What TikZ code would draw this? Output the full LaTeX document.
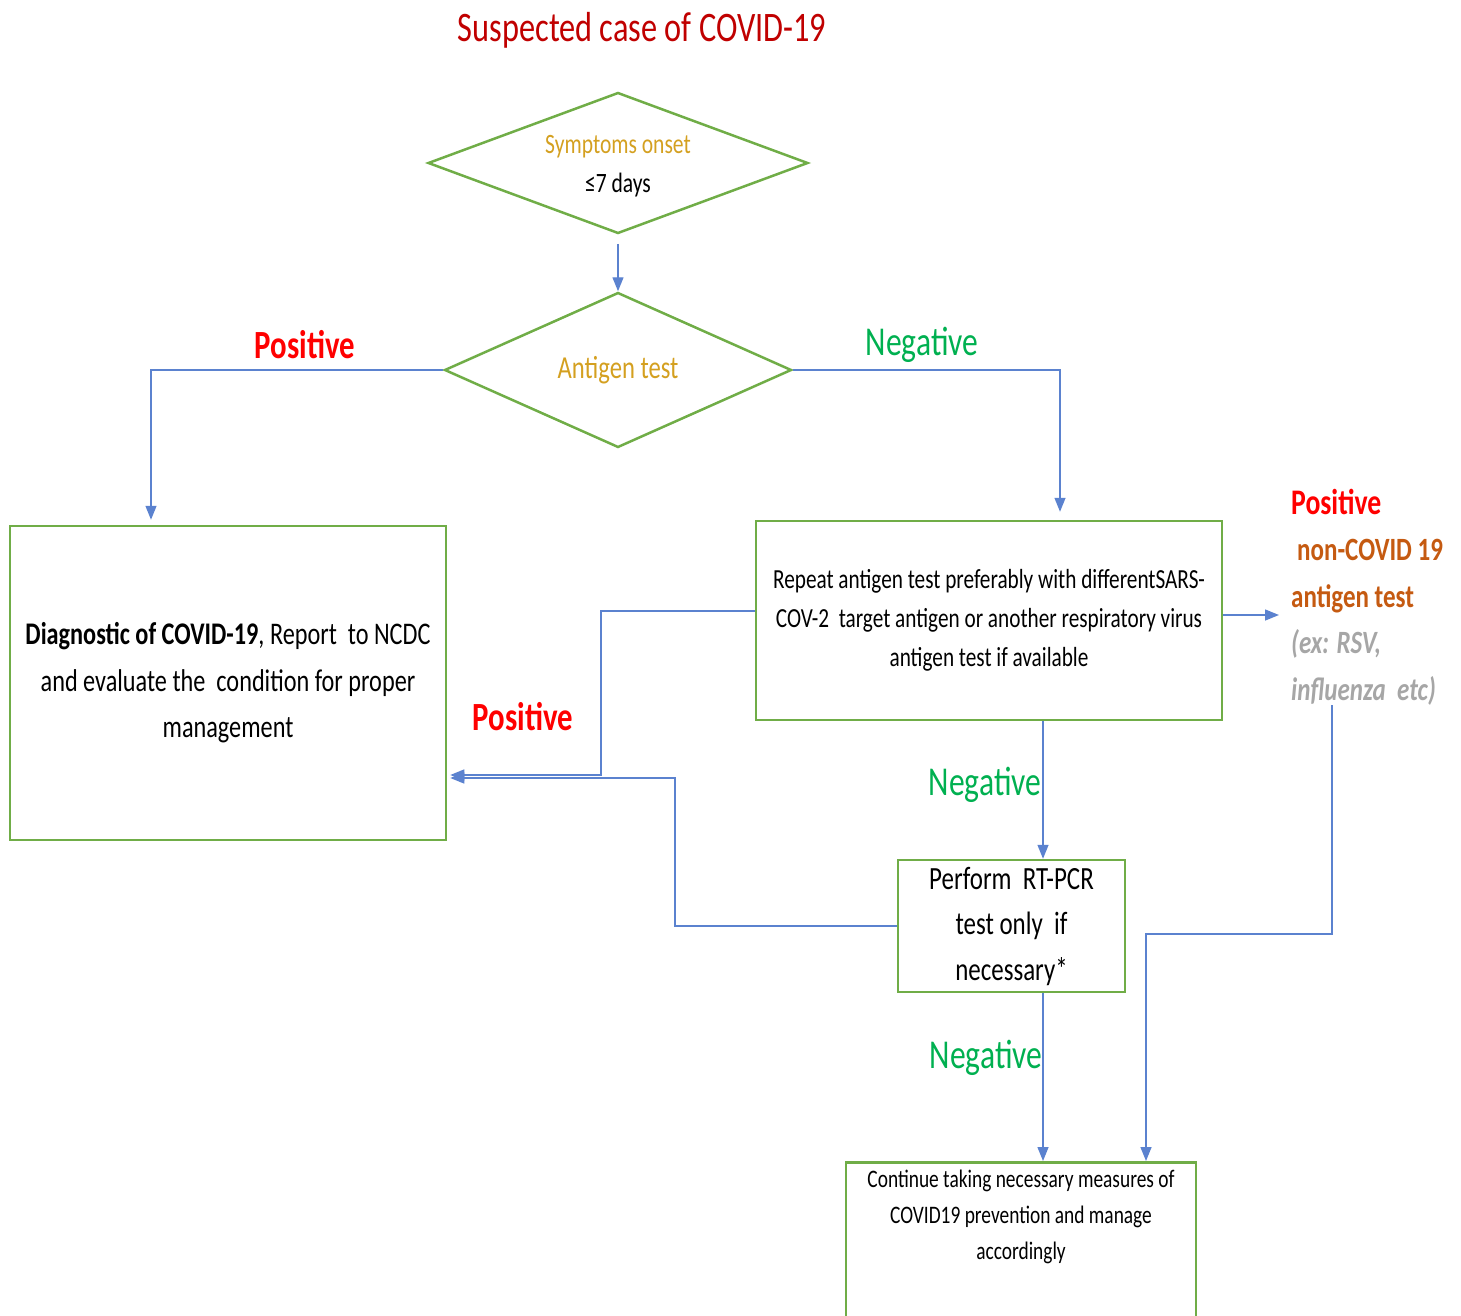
\documentclass[tikz,border=0pt]{standalone}
\usepackage{fontspec}
\setmainfont{Carlito}[FakeStretch=0.77]
\usetikzlibrary{arrows.meta,positioning,shapes.geometric}
\definecolor{boxgreen}{HTML}{70AD47}
\definecolor{linkblue}{HTML}{5B82CF}
\definecolor{titlered}{HTML}{C00000}
\definecolor{posred}{HTML}{FF0000}
\definecolor{neggreen}{HTML}{00B050}
\definecolor{goldtext}{HTML}{D4A020}
\definecolor{orangetext}{HTML}{C55A11}
\definecolor{greytext}{HTML}{A6A6A6}
\tikzset{
    %Define standard arrow tip
    >={Triangle[length=14pt,width=11pt]},
    %Define style for decisions
    romb/.style={
           diamond, aspect=2.7,
           draw=boxgreen, line width=2.5pt,
           inner sep=0pt,
           align=center},
    %Define style for boxes
    punkt/.style={
           rectangle,
           draw=boxgreen, line width=2.5pt,
           inner sep=0pt,
           align=center},
    % Define arrow style
    pil/.style={
           ->,
           draw=linkblue,
           line width=1.4pt},
    % Define label styles
    poslabel/.style={
           text=posred,
           font=\fontsize{40}{46}\selectfont\bfseries},
    neglabel/.style={
           text=neggreen,
           font=\fontsize{41}{46}\selectfont}
}
\begin{document}
\begin{tikzpicture}[x=1pt,y=-1pt]
\useasboundingbox (0,0) rectangle (1461,1316);
\clip (0,0) rectangle (1461,1316);
\node[text=titlered, font=\fontsize{42}{46}\selectfont] (title) at (642,30) {Suspected case of COVID-19};

\node[romb, minimum width=380pt, minimum height=141pt,
  font=\fontsize{28}{39}\selectfont] (onset) at (618,163) {};
\node[align=center, font=\fontsize{28}{39}\selectfont] (onsettext) at (618,166)
  {\textcolor{goldtext}{Symptoms onset}\\ ≤7 days};
\node[romb, minimum width=347pt, minimum height=155pt, text=goldtext,
  font=\fontsize{32}{39}\selectfont] (antigen) at (618,370) {Antigen test};

\node[punkt, minimum width=436pt, minimum height=314pt,
  font=\fontsize{31.5}{46.5}\selectfont] (diag) at (228,683)
  {\textbf{Diagnostic of COVID-19}, Report\ \ to NCDC\\ and evaluate the\ \ condition for proper\\ management};
\node[punkt, minimum width=466pt, minimum height=199pt,
  font=\fontsize{27.6}{39}\selectfont] (repeat) at (989,620.5)
  {Repeat antigen test preferably with differentSARS-\\ COV-2\ \ target antigen or another respiratory virus\\ antigen test if available};
\node[punkt, minimum width=227pt, minimum height=132pt,
  font=\fontsize{32.4}{45.5}\selectfont] (pcr) at (1011.5,926)
  {Perform\ \ RT-PCR\\ test only\ \ if\\ necessary*};
\node[punkt, anchor=north, minimum width=350pt, minimum height=260pt] (cont) at (1021,1161) {};
\node[below=5pt of cont.north, align=center,
  font=\fontsize{25.2}{36}\selectfont] (conttext)
  {Continue taking necessary measures of\\ COVID19 prevention and manage\\ accordingly};

\node[anchor=west, align=left, inner sep=0pt,
  font=\fontsize{32.5}{46.5}\selectfont\bfseries] (other) at (1291,597)
  {\textcolor{posred}{\fontsize{36}{46.5}\selectfont Positive}\\
   \textcolor{orangetext}{\hspace{6pt}non-COVID 19}\\
   \textcolor{orangetext}{antigen test}\\
   \textcolor{greytext}{\itshape (ex: RSV,}\\
   \textcolor{greytext}{\itshape influenza\ \ etc)}};

\node[poslabel] (posleft) at (305,345) {Positive};
\node[neglabel] (negright) at (922,345) {Negative};
\node[poslabel] (posmid) at (523,717) {Positive};
\node[neglabel] (negrepeat) at (985,785) {Negative};
\node[neglabel] (negpcr) at (986,1058) {Negative};

\draw[pil, shorten <=9pt] (onset.south) -- (antigen.north);
\draw[pil, shorten >=5pt] (antigen.west) -| (diag.north -| 151,0);
\draw[pil, shorten >=8pt] (antigen.east) -| (repeat.north -| 1060,0);
\draw[pil, shorten >=12pt] (repeat.east |- 0,615) -- (other.west |- 0,615);
\draw[pil, shorten >=3pt] (repeat.west |- 0,611) -| (601,775) -- (diag.east |- 0,775);
\draw[pil, shorten >=3pt] (pcr.west) -| (675,778) -- (diag.east |- 0,778);
\draw[pil] (repeat.south -| 1043,0) -- (pcr.north -| 1043,0);
\draw[pil] (pcr.south -| 1043,0) -- (cont.north -| 1043,0);
\draw[pil] (other.south -| 1332,0) |- (1146,934) -- (cont.north -| 1146,0);
\end{tikzpicture}
\end{document}
